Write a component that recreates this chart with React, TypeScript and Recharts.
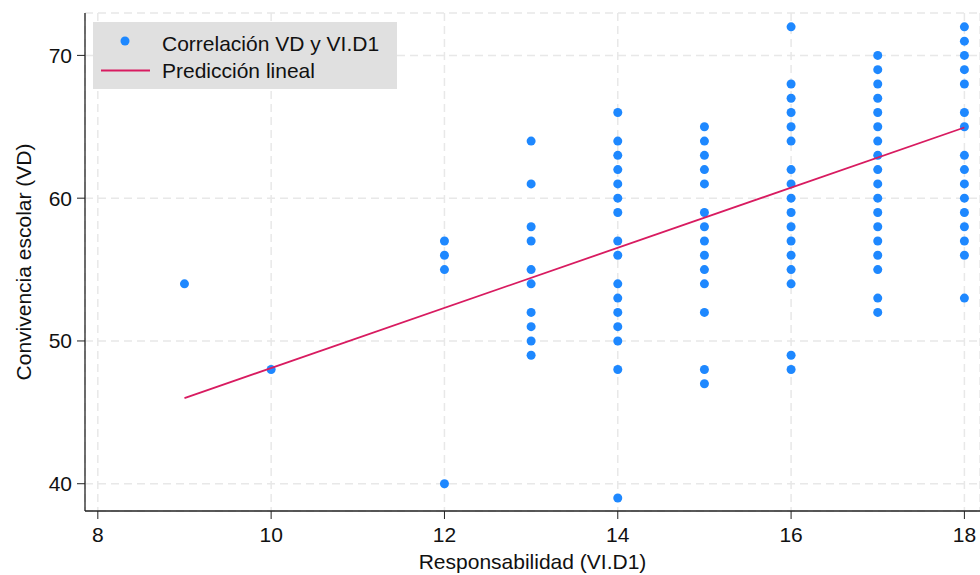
import React from 'react';
import { ScatterChart, Scatter, XAxis, YAxis, CartesianGrid, Legend } from 'recharts';

// Responsabilidad (VI.D1) values and the Convivencia escolar (VD) values observed at each one
const xCategories = [9, 10, 12, 13, 14, 15, 16, 17, 18];
const vdAt9 = [54];
const vdAt10 = [48];
const vdAt12 = [57, 56, 55, 40];
const vdAt13 = [64, 61, 58, 57, 55, 54, 52, 51, 50, 49];
const vdAt14 = [66, 64, 63, 62, 61, 60, 59, 57, 56, 54, 53, 52, 51, 50, 48, 39];
const vdAt15 = [65, 64, 63, 62, 61, 59, 58, 57, 56, 55, 54, 52, 48, 47];
const vdAt16 = [72, 68, 67, 66, 65, 64, 62, 61, 60, 59, 58, 57, 56, 55, 54, 49, 48];
const vdAt17 = [70, 69, 68, 67, 66, 65, 64, 63, 62, 61, 60, 59, 58, 57, 56, 55, 53, 52];
const vdAt18 = [72, 71, 70, 69, 68, 66, 65, 63, 62, 61, 60, 59, 58, 57, 56, 53];
const columns = [vdAt9, vdAt10, vdAt12, vdAt13, vdAt14, vdAt15, vdAt16, vdAt17, vdAt18];

// Linear prediction endpoints
const fitX = [9, 18];
const fitY = [46.0, 64.95];

const xTicks = [8, 10, 12, 14, 16, 18];
const yTicks = [40, 50, 60, 70];

const scatterLabel = 'Correlación VD y VI.D1';
const lineLabel = 'Predicción lineal';
const xLabel = 'Responsabilidad (VI.D1)';
const yLabel = 'Convivencia escolar (VD)';

const points = xCategories.flatMap((x, i) => columns[i].map((y) => ({ x, y })));
const fitData = fitX.map((x, i) => ({ x, y: fitY[i] }));

const DOT = '#1e88ff';
const LINE = '#d81b60';
const FONT = '"Liberation Sans", Arial, sans-serif';
const AXIS = '#222';
const FS = 21;

const Dot = (props: any) => {
  const { cx, cy } = props;
  if (cx == null || cy == null) return <g />;
  return <circle cx={cx} cy={cy} r={4.5} fill={DOT} />;
};

const NoDot = () => <g />;

const LegendBox = () => (
  <div
    style={{
      width: 304,
      height: 67,
      background: '#e0e0e0',
      fontFamily: FONT,
      fontSize: FS,
      color: '#111',
      position: 'relative',
    }}
  >
    <svg width={304} height={67} style={{ position: 'absolute', left: 0, top: 0 }}>
      <circle cx={32} cy={19} r={4.5} fill={DOT} />
      <line x1={8} x2={57} y1={48.5} y2={48.5} stroke={LINE} strokeWidth={1.8} />
    </svg>
    <div style={{ position: 'absolute', left: 69, top: 11, lineHeight: '22px', whiteSpace: 'nowrap' }}>{scatterLabel}</div>
    <div style={{ position: 'absolute', left: 69, top: 38, lineHeight: '22px', whiteSpace: 'nowrap' }}>{lineLabel}</div>
  </div>
);

export default function App() {
  return (
    <div style={{ position: 'absolute', left: 0, top: 0, width: 980, height: 575, background: '#fff' }}>
      <ScatterChart width={980} height={575} margin={{ top: 13, right: 0, bottom: 0, left: 0 }} style={{ fontFamily: FONT }}>
        <CartesianGrid stroke="#e8e8e8" strokeDasharray="8 5" strokeWidth={1.5} />
        <XAxis
          type="number"
          dataKey="x"
          domain={[7.852, 18.18]}
          ticks={xTicks}
          allowDataOverflow
          height={64}
          tickSize={8}
          tickMargin={8}
          stroke={AXIS}
          tick={{ fill: '#111', fontSize: FS, fontFamily: FONT }}
          tickLine={{ stroke: AXIS }}
          axisLine={{ stroke: AXIS, strokeWidth: 1.3 }}
          label={{ value: xLabel, position: 'insideBottom', offset: 6, fill: '#111', fontSize: FS, fontFamily: FONT }}
        />
        <YAxis
          type="number"
          dataKey="y"
          domain={[38.09, 72.97]}
          ticks={yTicks}
          allowDataOverflow
          width={85}
          tickSize={8}
          tickMargin={5}
          stroke={AXIS}
          tick={{ fill: '#111', fontSize: FS, fontFamily: FONT }}
          tickLine={{ stroke: AXIS }}
          axisLine={{ stroke: AXIS, strokeWidth: 1.3 }}
          label={{ value: yLabel, angle: -90, position: 'center', dx: -19, fill: '#111', fontSize: FS, fontFamily: FONT }}
        />
        <Scatter name={scatterLabel} data={points} fill={DOT} shape={Dot} isAnimationActive={false} />
        <Scatter
          name={lineLabel}
          data={fitData}
          fill={LINE}
          line={{ stroke: LINE, strokeWidth: 1.8 }}
          shape={NoDot}
          isAnimationActive={false}
        />
        <Legend
          layout="horizontal"
          verticalAlign="middle"
          align="center"
          content={() => <LegendBox />}
          wrapperStyle={{ position: 'absolute', left: 93, top: 22, width: 304, height: 67 }}
        />
      </ScatterChart>
    </div>
  );
}
